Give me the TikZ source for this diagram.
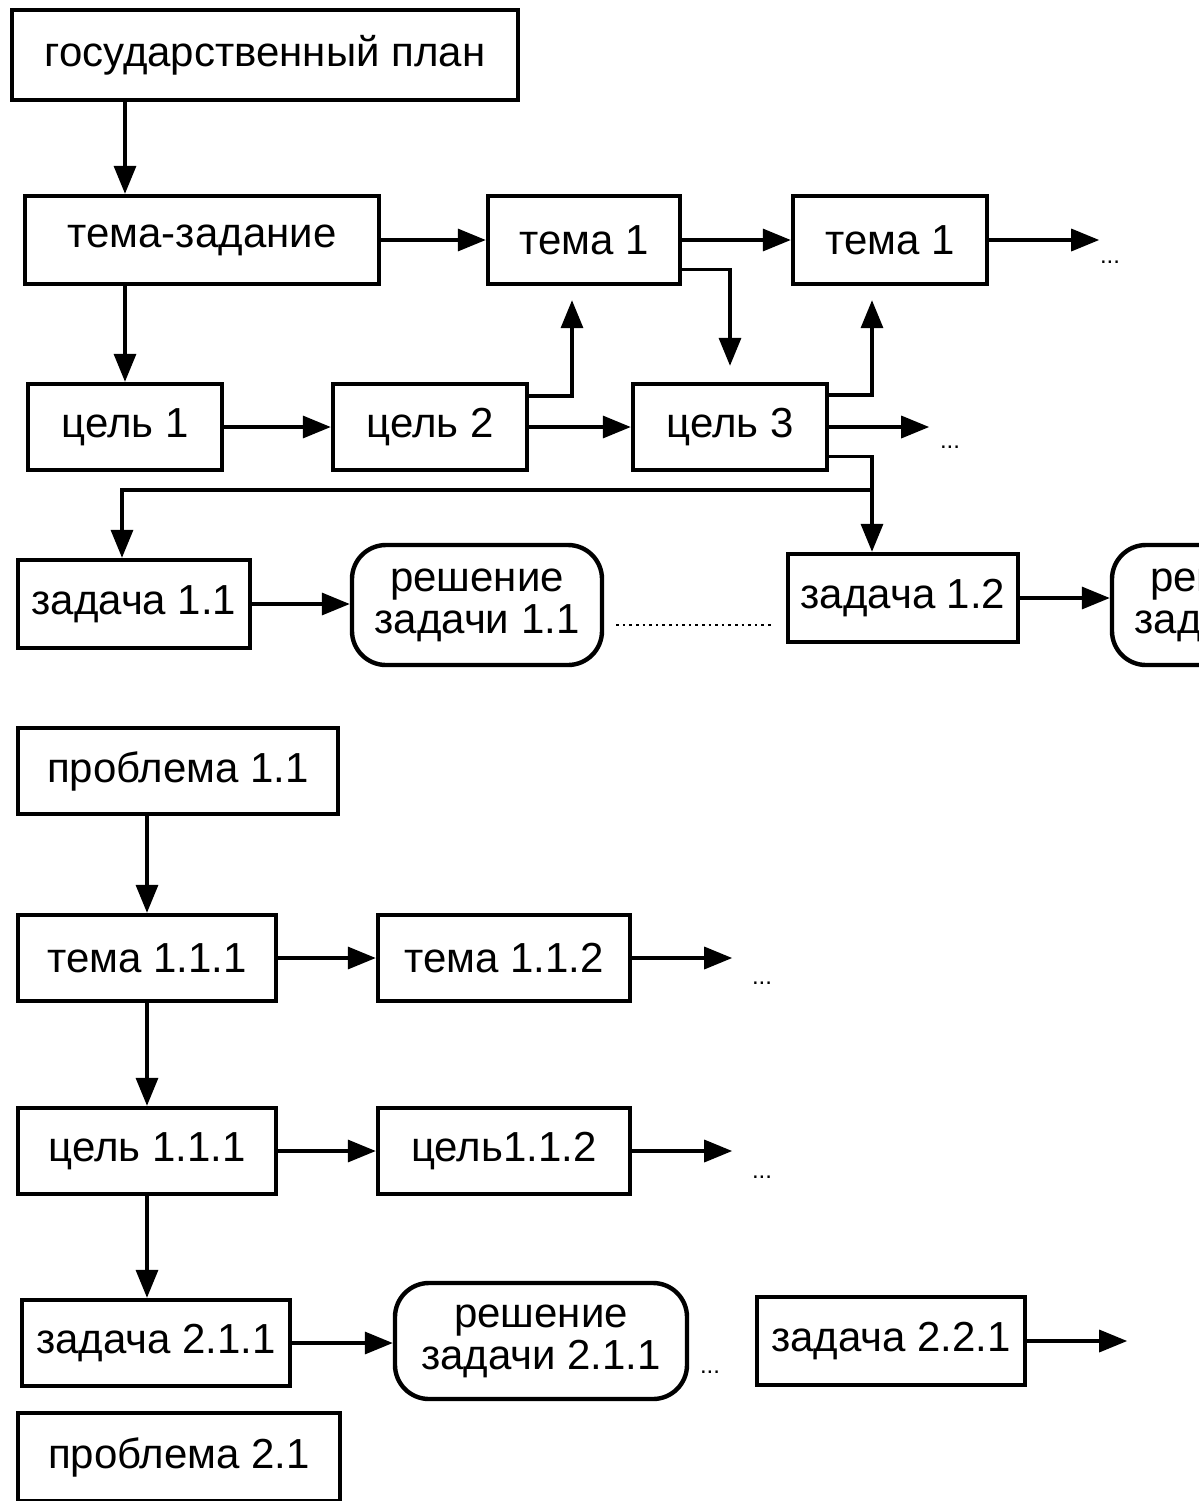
\documentclass[tikz,border=0pt]{standalone}
\usepackage{fontspec}
\setmainfont{Liberation Sans}
\usetikzlibrary{arrows.meta, positioning, calc}
\tikzstyle{box} = [rectangle, draw=black, line width=2.2pt, inner sep=0pt, text centered, align=center, font=\fontsize{21}{21}\selectfont]
\tikzstyle{rbox} = [box, rounded corners=17pt]
\tikzstyle{arrow} = [line width=1.7pt, -{Triangle[length=14pt,width=11pt]}]
\tikzstyle{more} = [inner sep=0pt, font=\fontsize{12}{12}\selectfont]

\begin{document}
\begin{tikzpicture}[x=0.5pt, y=-0.5pt]
    \useasboundingbox (0,0) rectangle (1199,1501);
    \clip (0,0) rectangle (1199,1501);
    % верхняя часть
    \node (plan) [box, minimum width=253pt, minimum height=45pt] at (265,55) {государственный план};
    \node (tz) [box, minimum width=177pt, minimum height=44pt] at (202,240) {тема-задание};
    \node (tA) [box, minimum width=96pt, minimum height=44pt] at (584,240) {тема 1};
    \node (tB) [box, minimum width=97pt, minimum height=44pt] at (890,240) {тема 1};
    \node (cA) [box, minimum width=97pt, minimum height=43pt] at (125,427) {цель 1};
    \node (cB) [box, minimum width=97pt, minimum height=43pt] at (430,427) {цель 2};
    \node (cC) [box, minimum width=97pt, minimum height=43pt] at (730,427) {цель 3};
    \node (zA) [box, minimum width=116pt, minimum height=44pt] at (134,604) {задача 1.1};
    \node (rA) [rbox, minimum width=125pt, minimum height=60pt] at (477,605) {решение\\задачи 1.1};
    \node (zB) [box, minimum width=115pt, minimum height=44pt] at (903,598) {задача 1.2};
    \node (rB) [rbox, minimum width=125pt, minimum height=60pt] at (1237,605) {решение\\задачи 1.2};
    \node (moreA) [more] at (1110,262) {...};
    \node (moreB) [more] at (950,447) {...};
    \coordinate (endA) at ([xshift=55pt]tB.east);
    \coordinate (endB) at ([xshift=50pt]cC.east);
    \coordinate (split) at (872,490);

    \draw [arrow] (plan.south -| cA.north) -- (tz.north -| cA.north);
    \draw [arrow] (tz.south -| cA.north) -- (cA.north);
    \draw [arrow] (tz.east) -- (tA.west);
    \draw [arrow] (tA.east) -- (tB.west);
    \draw [arrow] (tB.east) -- (endA);
    \draw [arrow] (cA.east) -- (cB.west);
    \draw [arrow] (cB.east) -- (cC.west);
    \draw [arrow] (cC.east) -- (endB);
    \draw [arrow, shorten >=7pt] ([yshift=-7pt]cB.north east) -| ([xshift=-6pt]tA.south);
    \draw [arrow, shorten >=8pt] ([yshift=8.5pt]tA.south east) -| (cC.north);
    \draw [arrow, shorten >=7pt] ([yshift=-6.5pt]cC.north east) -| ([xshift=-9pt]tB.south);
    \draw [arrow] ([yshift=8pt]cC.south east) -| ([xshift=-15.5pt]zB.north);
    \draw [arrow] (split) -| ([xshift=-6pt]zA.north);
    \draw [arrow] (zA.east) -- (zA.east -| rA.west);
    \draw [line width=1.3pt, dotted, shorten <=6pt, shorten >=6pt] ([yshift=-10pt]rA.east) -- ([yshift=-10pt]rA.east -| zB.west);
    \draw [arrow] (zB.east) -- (zB.east -| rB.west);

    % нижняя часть
    \node (pA) [box, minimum width=160pt, minimum height=43pt] at (178,771) {проблема 1.1};
    \node (tAA) [box, minimum width=129pt, minimum height=43pt] at (147,958) {тема 1.1.1};
    \node (tAB) [box, minimum width=126pt, minimum height=43pt] at (504,958) {тема 1.1.2};
    \node (cAA) [box, minimum width=129pt, minimum height=43pt] at (147,1151) {цель 1.1.1};
    \node (cAB) [box, minimum width=126pt, minimum height=43pt] at (504,1151) {цель1.1.2};
    \node (zC) [box, minimum width=134pt, minimum height=43pt] at (156,1343) {задача 2.1.1};
    \node (rC) [rbox, minimum width=146pt, minimum height=58pt] at (541,1341) {решение\\задачи 2.1.1};
    \node (zD) [box, minimum width=134pt, minimum height=44pt] at (891,1341) {задача 2.2.1};
    \node (pB) [box, minimum width=161pt, minimum height=44pt] at (179,1457) {проблема 2.1};
    \node (moreC) [more] at (762,983) {...};
    \node (moreD) [more] at (762,1177) {...};
    \node (moreE) [more] at (710,1372) {...};
    \coordinate (endC) at ([xshift=50pt]tAB.east);
    \coordinate (endD) at ([xshift=50pt]cAB.east);
    \coordinate (endE) at ([xshift=50pt]zD.east);

    \draw [arrow] (pA.south -| tAA.north) -- (tAA.north);
    \draw [arrow] (tAA.east) -- (tAB.west);
    \draw [arrow] (tAB.east) -- (endC);
    \draw [arrow] (tAA.south) -- (cAA.north);
    \draw [arrow] (cAA.east) -- (cAB.west);
    \draw [arrow] (cAB.east) -- (endD);
    \draw [arrow] (cAA.south) -- (zC.north -| cAA.south);
    \draw [arrow] (zC.east) -- (zC.east -| rC.west);
    \draw [arrow] (zD.east) -- (endE);
\end{tikzpicture}
\end{document}
